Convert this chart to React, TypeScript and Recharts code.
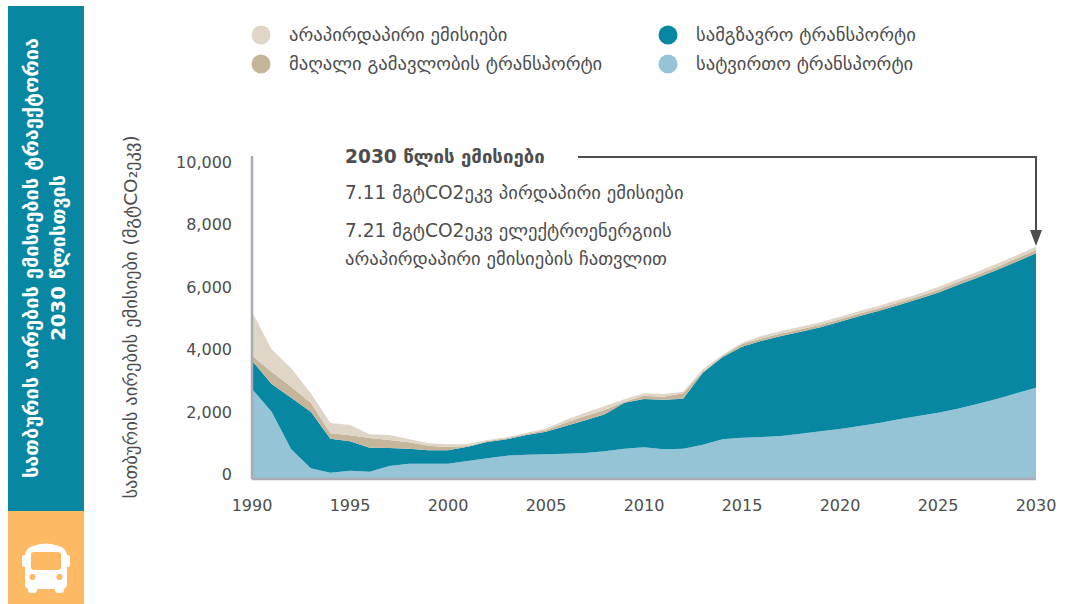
import React from 'react';
import { AreaChart, Area, XAxis, YAxis } from 'recharts';

const years = [
  1990, 1991, 1992, 1993, 1994, 1995, 1996, 1997, 1998, 1999, 2000, 2001, 2002, 2003,
  2004, 2005, 2006, 2007, 2008, 2009, 2010, 2011, 2012, 2013, 2014, 2015, 2016, 2017,
  2018, 2019, 2020, 2021, 2022, 2023, 2024, 2025, 2026, 2027, 2028, 2029, 2030,
];
const freight = [
  2885, 2157, 950, 342, 203, 267, 235, 417, 491, 491, 491, 577, 663, 748,
  780, 790, 812, 833, 887, 972, 1015, 951, 972, 1100, 1271, 1325, 1346, 1378,
  1452, 1529, 1603, 1698, 1795, 1913, 2019, 2125, 2253, 2404, 2564, 2747, 2928,
];
const passenger = [
  907, 888, 1654, 1814, 1090, 942, 769, 577, 481, 429, 429, 458, 522, 526,
  631, 724, 888, 1048, 1186, 1474, 1548, 1590, 1603, 2308, 2628, 2917, 3086, 3205,
  3269, 3333, 3439, 3526, 3599, 3663, 3750, 3846, 3965, 4048, 4134, 4218, 4308,
];
const offroad = [
  160, 394, 353, 288, 173, 192, 311, 256, 205, 147, 106, 22, 32, 32,
  32, 54, 106, 138, 138, 32, 106, 96, 173, 32, 42, 87, 80, 80,
  80, 80, 80, 82, 80, 82, 80, 90, 93, 96, 99, 103, 106,
];
const indirect = [
  1410, 718, 590, 301, 330, 330, 119, 160, 106, 77, 87, 64, 32, 32,
  42, 54, 87, 106, 128, 77, 77, 87, 51, 77, 32, 42, 77, 80,
  80, 80, 80, 80, 80, 84, 84, 90, 93, 96, 99, 103, 106,
];

const xTicks = [1990, 1995, 2000, 2005, 2010, 2015, 2020, 2025, 2030];
const yTicks = [0, 2000, 4000, 6000, 8000, 10000];

const legendLeft = [
  { name: 'არაპირდაპირი ემისიები', color: '#e0d6c8' },
  { name: 'მაღალი გამავლობის ტრანსპორტი', color: '#c4b59b' },
];
const legendRight = [
  { name: 'სამგზავრო ტრანსპორტი', color: '#0887a3' },
  { name: 'სატვირთო ტრანსპორტი', color: '#96c4d7' },
];

const data = years.map((year, i) => ({
  year,
  freight: freight[i],
  passenger: passenger[i],
  offroad: offroad[i],
  indirect: indirect[i],
}));

const FONT = '"DejaVu Sans", sans-serif';
const TEXT = '#4d4d4f';
const AXIS = '#a9abb5';

// tick labels in the original sit a few px above their value
const YTick = ({ y, payload }: any) => (
  <text x={232} y={y - 5} dy={6} textAnchor="end" fontSize={16} fill={TEXT} fontFamily={FONT}>
    {payload.value.toLocaleString('en-US')}
  </text>
);

function LegendRow({ x, y, name, color }: { x: number; y: number; name: string; color: string }) {
  return (
    <g>
      <circle cx={x} cy={y} r={9.5} fill={color} />
      <text x={x + 28} y={y + 6} fontSize={18.6} fill={TEXT} fontFamily={FONT}>{name}</text>
    </g>
  );
}

function Overlay() {
  return (
    <svg width={1066} height={604} style={{ position: 'absolute', left: 0, top: 0 }}>
      <rect x={8} y={6} width={76} height={505} fill="#0887a3" />
      <rect x={8} y={511} width={76} height={93} fill="#fdb964" />
      <g transform="translate(38,258) rotate(-90)">
        <text textAnchor="middle" fontSize={20} fontWeight="bold" fill="#fff" fontFamily={FONT}>
          სათბურის აირების ემისიების ტრაექტორია
        </text>
        <text textAnchor="middle" y={27} fontSize={19.7} fontWeight="bold" fill="#fff" fontFamily={FONT}>
          2030 წლისთვის
        </text>
      </g>
      {/* bus icon */}
      <g fill="#fff">
        <path d="M33 546 Q46 541 59 546 Q66 548 67 555 L67 584 Q67 589 62 589 L30 589 Q25 589 25 584 L25 555 Q26 548 33 546 Z" />
        <rect x={22} y={555} width={4} height={12} rx={2} />
        <rect x={66} y={555} width={4} height={12} rx={2} />
        <rect x={28} y={586} width={9} height={7} rx={3} />
        <rect x={55} y={586} width={9} height={7} rx={3} />
      </g>
      <rect x={31} y={552} width={30} height={18} rx={3} fill="#fdb964" />
      <circle cx={32.5} cy={577} r={3} fill="#fdb964" />
      <circle cx={59.5} cy={577} r={3} fill="#fdb964" />

      <text transform="translate(137,317) rotate(-90)" textAnchor="middle" fontSize={18.5} fill={TEXT} fontFamily={FONT}>
        სათბურის აირების ემისიები (მგტCO₂ეკვ)
      </text>

      {legendLeft.map((l, i) => <LegendRow key={l.name} x={261} y={35 + i * 29} name={l.name} color={l.color} />)}
      {legendRight.map((l, i) => <LegendRow key={l.name} x={668} y={35 + i * 29} name={l.name} color={l.color} />)}

      <text x={345} y={163} fontSize={18.6} fontWeight="bold" fill={TEXT} fontFamily={FONT}>2030 წლის ემისიები</text>
      <text x={345} y={199} fontSize={18.6} fill={TEXT} fontFamily={FONT}>7.11 მგტCO2ეკვ პირდაპირი ემისიები</text>
      <text x={345} y={237} fontSize={18.6} fill={TEXT} fontFamily={FONT}>7.21 მგტCO2ეკვ ელექტროენერგიის</text>
      <text x={345} y={265} fontSize={18.6} fill={TEXT} fontFamily={FONT}>არაპირდაპირი ემისიების ჩათვლით</text>
      <path d="M578 157 H1036 V235" fill="none" stroke={TEXT} strokeWidth={2} />
      <path d="M1030 230 L1042 230 L1036 246 Z" fill={TEXT} />
    </svg>
  );
}

export default function App() {
  return (
    <div style={{ position: 'absolute', left: 0, top: 0, width: 1066, height: 604, overflow: 'hidden', background: '#fff' }}>
      <AreaChart
        width={1066}
        height={604}
        data={data}
        margin={{ top: 156, right: 30, bottom: 85, left: 172 }}
        style={{ position: 'absolute', left: 0, top: 0 }}
      >
        <XAxis
          dataKey="year"
          type="number"
          domain={[1990, 2030]}
          ticks={xTicks}
          tickLine={false}
          interval={0}
          stroke={AXIS}
          strokeWidth={2.5}
          tick={{ fontSize: 16, fill: TEXT, fontFamily: FONT }}
          tickMargin={15}
          height={40}
        />
        <YAxis
          width={80}
          type="number"
          domain={[0, 10353]}
          ticks={yTicks}
          tickLine={false}
          interval={0}
          stroke={AXIS}
          strokeWidth={2.5}
          tick={<YTick />}
          allowDataOverflow
        />
        <Area dataKey="freight" stackId="a" type="linear" fill="#96c4d7" fillOpacity={1} stroke="none" isAnimationActive={false} />
        <Area dataKey="passenger" stackId="a" type="linear" fill="#0887a3" fillOpacity={1} stroke="none" isAnimationActive={false} />
        <Area dataKey="offroad" stackId="a" type="linear" fill="#c4b59b" fillOpacity={1} stroke="none" isAnimationActive={false} />
        <Area dataKey="indirect" stackId="a" type="linear" fill="#e0d6c8" fillOpacity={1} stroke="none" isAnimationActive={false} />
      </AreaChart>
      <Overlay />
    </div>
  );
}
